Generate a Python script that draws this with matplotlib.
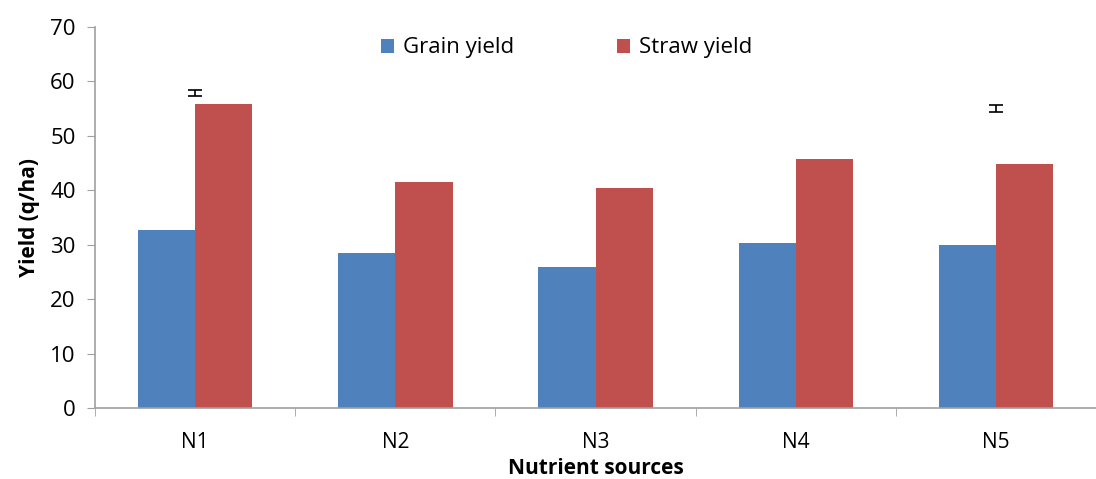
import numpy as np
import matplotlib.pyplot as plt

sources = ["N1", "N2", "N3", "N4", "N5"]
grain = [32.7, 28.5, 25.9, 30.3, 30.0]
straw = [55.9, 41.5, 40.4, 45.8, 44.9]

# small error bars drawn above N1 and N5
err_pos = [0, 4]
err_val = [57.9, 55.0]
err_size = [0.55, 0.7]

plt.rcParams['font.family'] = ['Open Sans', 'DejaVu Sans']

fig = plt.figure(figsize=(10.96, 4.79), dpi=100)
ax = fig.add_axes([95 / 1096, 71 / 479, 1001 / 1096, 381 / 479])

x = np.arange(len(sources))
w = 1 / 3.5
ax.bar(x - w / 2, grain, w, color='#4f81bd', label='Grain yield')
ax.bar(x + w / 2, straw, w, color='#c0504d', label='Straw yield')
ax.errorbar(err_pos, err_val, yerr=err_size, fmt='none', ecolor='black',
            elinewidth=1.2, capsize=5, capthick=1.2)

ax.set_xlim(-0.5, -0.5 + 1001 / 202)
ax.set_ylim(0, 70)
ax.set_yticks(range(0, 71, 10))
ax.set_xticks(x)
ax.set_xticklabels(sources)
ax.set_xticks(np.arange(-0.5, 5, 1), minor=True)
ax.tick_params(axis='x', which='major', length=0, pad=17, labelsize=15)
ax.tick_params(axis='x', which='minor', length=6, color='#a0a0a0', direction='out')
ax.tick_params(axis='y', length=6, color='#a0a0a0', direction='out', pad=8, labelsize=16)

for s in ['top', 'right']:
    ax.spines[s].set_visible(False)
for s in ['left', 'bottom']:
    ax.spines[s].set_color('#a0a0a0')
    ax.spines[s].set_linewidth(1.2)

ax.set_ylabel('Yield (q/ha)', fontsize=15, fontweight='bold', labelpad=7)
ax.set_xlabel('Nutrient sources', fontsize=15, fontweight='bold', labelpad=4)

ax.legend(loc='center', bbox_to_anchor=(0.471, 0.945), ncol=2, frameon=False,
          fontsize=16, handlelength=0.6, handleheight=0.6, handletextpad=0.4,
          columnspacing=4.6)

fig.savefig('out.png', dpi=100)
